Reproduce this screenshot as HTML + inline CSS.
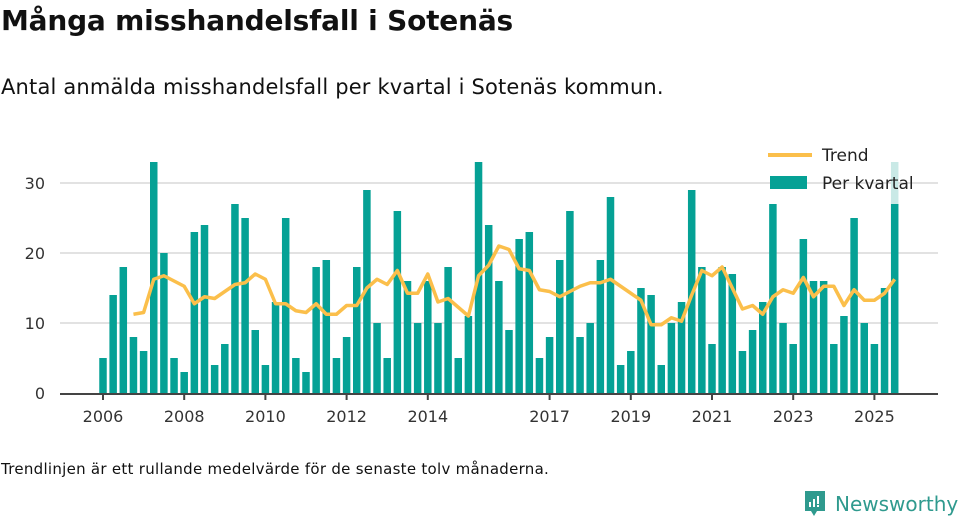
<!DOCTYPE html>
<html><head><meta charset="utf-8"><style>
body{margin:0;width:960px;height:520px;background:#fff;font-family:"Liberation Sans","DejaVu Sans",sans-serif;overflow:hidden;position:relative;color:#111}
#title{position:absolute;left:1px;top:4px;font-size:28px;font-weight:bold;margin:0;font-family:"DejaVu Sans","Liberation Sans",sans-serif;letter-spacing:-0.2px}
#sub{position:absolute;left:1px;top:75px;font-size:21px;font-family:"DejaVu Sans","Liberation Sans",sans-serif;letter-spacing:0.18px}
#note{position:absolute;left:1px;top:460px;font-size:15px;font-family:"DejaVu Sans","Liberation Sans",sans-serif;letter-spacing:0.28px}
#logo{position:absolute;left:803px;top:489px;display:flex;align-items:center;gap:8px;color:#2f9a8e;font-size:20px;font-family:"DejaVu Sans",sans-serif}
svg{position:absolute;left:0;top:0}
</style></head><body>
<h1 id="title">Många misshandelsfall i Sotenäs</h1>
<div id="sub">Antal anmälda misshandelsfall per kvartal i Sotenäs kommun.</div>
<div id="note">Trendlinjen är ett rullande medelvärde för de senaste tolv månaderna.</div>
<div id="logo">
<svg width="24" height="30" viewBox="0 0 24 30" style="position:static"><path d="M2 2h20v20h-8l-3 5-3-5H2z" fill="#2f9a8e"/><rect x="6" y="13" width="2" height="5" fill="#fff"/><rect x="10" y="10" width="2" height="8" fill="#fff"/><rect x="14" y="7" width="2" height="8" fill="#fff"/><rect x="14" y="16" width="2" height="2" fill="#fff"/></svg>
<span>Newsworthy</span></div>
<svg id="chart" width="960" height="520"></svg>
<script>
const values=[5,14,18,8, 6,33,20,5, 3,23,24,4, 7,27,25,9, 4,13,25,5, 3,18,19,5, 8,18,29,10, 5,26,16,10, 16,10,18,5, 11,33,24,16, 9,22,23,5, 8,19,26,8, 10,19,28,4, 6,15,14,4, 10,13,29,18, 7,18,17,6, 9,13,27,10, 7,22,16,16, 7,11,25,10, 7,15,33];
const partialValue=27;
const yTicks=[0,10,20,30];
const xTickYears=[2006,2008,2010,2012,2014,2017,2019,2021,2023,2025];
const startYear=2006;
const NS='http://www.w3.org/2000/svg';
const svg=document.getElementById('chart');
const x=i=>103+i*10.15;
const y=v=>393-v*7;
function mk(t,a){const e=document.createElementNS(NS,t);for(const k in a)e.setAttribute(k,a[k]);svg.appendChild(e);return e;}
yTicks.forEach(t=>{
 if(t>0){const g=mk('line',{x1:60,x2:938,y1:y(t),y2:y(t),stroke:'#e2e2e2','stroke-width':2});
 
 }
 const l=mk('text',{x:45,y:y(t)+6,'text-anchor':'end','font-size':16,fill:'#333','font-family':'DejaVu Sans, sans-serif'});
 l.textContent=t;
 
 
});
values.forEach((v,i)=>{
 const last=i===values.length-1;
 if(last){const lb=mk('rect',{x:x(i)-3.75,y:y(v),width:7.5,height:y(0)-y(v),fill:'#c9e9e6'});
 
 }
 const hv=last?partialValue:v;
 const b=mk('rect',{x:x(i)-3.75,y:y(hv),width:7.5,height:y(0)-y(hv),fill:'#05a195'});
 
 
});
let pts=[];
for(let i=3;i<values.length;i++){const m=(values[i]+values[i-1]+values[i-2]+values[i-3])/4;pts.push(x(i)+','+y(m));}
const tl=mk('polyline',{points:pts.join(' '),fill:'none',stroke:'#fbbf4b','stroke-width':3.5,'stroke-linejoin':'round'});


const ax=mk('line',{x1:60,x2:938,y1:394,y2:394,stroke:'#444','stroke-width':2});


xTickYears.forEach(yr=>{
 const xi=x((yr-startYear)*4);
 const t=mk('line',{x1:xi,x2:xi,y1:394,y2:400,stroke:'#444','stroke-width':2});
 
 
 const l=mk('text',{x:xi,y:422,'text-anchor':'middle','font-size':16,fill:'#333','font-family':'DejaVu Sans, sans-serif'});
 l.textContent=yr;
 
 
});
const g1=mk('line',{x1:768,x2:812,y1:155,y2:155,stroke:'#fbbf4b','stroke-width':4});


const t1=mk('text',{x:822,y:161,'font-size':17,fill:'#222','font-family':'DejaVu Sans, sans-serif'});t1.textContent='Trend';


const g2=mk('rect',{x:770,y:176,width:37,height:13,fill:'#05a195'});


const t2=mk('text',{x:822,y:189,'font-size':17,fill:'#222','font-family':'DejaVu Sans, sans-serif'});t2.textContent='Per kvartal';


</script>
</body></html>
